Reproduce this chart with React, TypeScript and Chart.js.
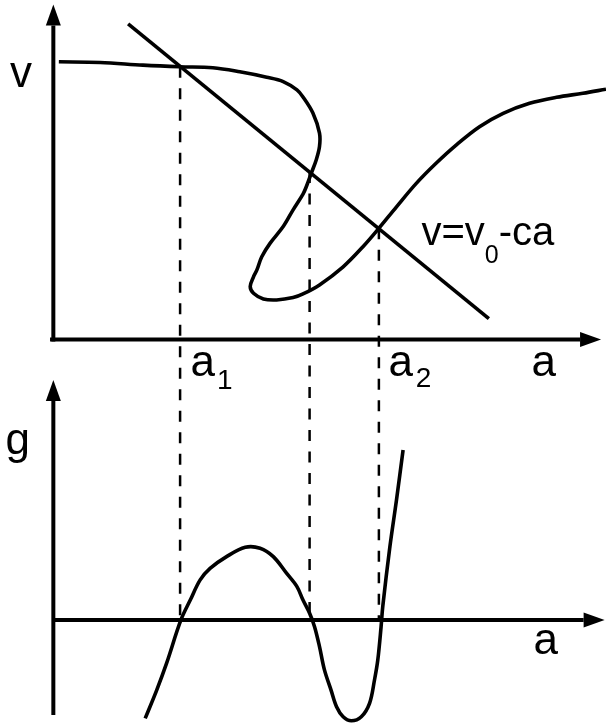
import React, { useEffect, useRef } from "react";
import { Chart, registerables } from "chart.js";

Chart.register(...registerables);

// ---- data (a = abscissa, v = upper ordinate, g = lower ordinate) ----
const curveA = [1.0, 8.5, 16.3, 23.0, 29.0, 33.9, 38.8, 41.8, 44.3, 45.4, 47.2, 48.4, 48.4, 47.8, 46.9, 46.0, 45.4, 43.6, 41.8, 39.4, 37.9, 37.0, 36.4, 35.8, 36.4, 38.2, 40.6, 43.6, 45.4, 48.4, 52.7, 56.3, 59.2, 62.4, 66.0, 69.6, 73.3, 77.5, 81.8, 86.6, 91.5, 96.3, 100.5];
const curveV = [82.9, 82.7, 81.9, 81.4, 81.1, 79.9, 78.3, 77.0, 74.5, 72.4, 67.6, 61.6, 57.6, 53.6, 49.6, 45.6, 43.4, 38.7, 33.7, 28.7, 24.7, 20.7, 18.7, 15.8, 13.8, 12.1, 11.8, 12.5, 13.6, 16.3, 21.7, 27.7, 33.2, 39.6, 46.6, 52.6, 58.1, 63.5, 67.5, 70.5, 72.3, 73.5, 74.7];

const lineA = [13.6, 79.2];
const lineV = [94.2, 6.2];

const gA = [16.7, 18.8, 20.6, 23.2, 24.9, 26.7, 28.5, 31.5, 34.9, 37.6, 40.0, 42.4, 44.3, 45.4, 46.6, 47.5, 48.4, 49.3, 50.5, 51.5, 52.7, 54.2, 56.0, 57.5, 58.4, 59.0, 59.6, 59.9, 61.2, 62.4, 63.6];
const gG = [-41.0, -29.2, -18.0, 0.0, 8.3, 16.7, 21.5, 26.4, 30.3, 29.9, 26.4, 19.5, 13.9, 8.3, 2.8, -2.8, -11.1, -20.8, -29.2, -36.1, -40.3, -42.0, -40.3, -34.7, -25.0, -16.7, -2.8, 5.5, 30.5, 50.0, 70.8];

// crossings of the curve with the straight line
const crossA = [23.05, 46.6, 59.2];
const crossV = [81.4, 50.0, 33.2];

// scale ranges
const A_MIN = -9.7, A_MAX = 100.5;
const V_MIN = -114.48, V_MAX = 101.34;
const G_MIN = -42.92, G_MAX = 258.33;

// axes extents
const TOP_X_AXIS = [-0.6, 99.6];
const TOP_Y_AXIS = [0, 100];
const BOT_X_AXIS = [0, 100.25];
const BOT_Y_AXIS = [-39.6, 100];

const FONT = '"Liberation Sans", Arial, Helvetica, sans-serif';

// v value level that corresponds to g = 0 (both ordinates span the full canvas)
const vAtGZero = V_MIN + ((0 - G_MIN) / (G_MAX - G_MIN)) * (V_MAX - V_MIN);

function arrow(ctx: CanvasRenderingContext2D, x1: number, y1: number, x2: number, y2: number) {
  const len = 21, hw = 7.5;
  const dx = x2 - x1, dy = y2 - y1;
  const d = Math.hypot(dx, dy);
  const ux = dx / d, uy = dy / d;
  const bx = x2 - ux * len, by = y2 - uy * len;
  ctx.beginPath();
  ctx.moveTo(x1, y1);
  ctx.lineTo(bx, by);
  ctx.stroke();
  ctx.beginPath();
  ctx.moveTo(x2, y2);
  ctx.lineTo(bx - uy * hw, by + ux * hw);
  ctx.lineTo(bx + uy * hw, by - ux * hw);
  ctx.closePath();
  ctx.fill();
}

function subText(ctx: CanvasRenderingContext2D, x: number, y: number, main: string, sub: string, rest: string, size: number, subSize: number, drop: number, gap: number) {
  ctx.font = `${size}px ${FONT}`;
  ctx.fillText(main, x, y);
  let cx = x + ctx.measureText(main).width + gap;
  if (sub) {
    ctx.font = `${subSize}px ${FONT}`;
    ctx.fillText(sub, cx, y + drop);
    cx += ctx.measureText(sub).width;
  }
  if (rest) {
    ctx.font = `${size}px ${FONT}`;
    ctx.fillText(rest, cx, y);
  }
}

const decorPlugin = {
  id: "decor",
  afterDatasetsDraw(chart: any) {
    const ctx: CanvasRenderingContext2D = chart.ctx;
    const sx = chart.scales.x, sv = chart.scales.yV, sg = chart.scales.yG;
    ctx.save();
    ctx.fillStyle = "#000";
    ctx.strokeStyle = "#000";
    ctx.lineWidth = 4;
    ctx.lineCap = "butt";
    const x0 = sx.getPixelForValue(0);
    // top panel axes
    const vy0 = sv.getPixelForValue(0);
    arrow(ctx, x0, sv.getPixelForValue(TOP_Y_AXIS[0]) + 2, x0, sv.getPixelForValue(TOP_Y_AXIS[1]));
    arrow(ctx, sx.getPixelForValue(TOP_X_AXIS[0]), vy0, sx.getPixelForValue(TOP_X_AXIS[1]), vy0);
    // bottom panel axes
    const gy0 = sg.getPixelForValue(0);
    arrow(ctx, x0, sg.getPixelForValue(BOT_Y_AXIS[0]), x0, sg.getPixelForValue(BOT_Y_AXIS[1]));
    arrow(ctx, sx.getPixelForValue(BOT_X_AXIS[0]), gy0, sx.getPixelForValue(BOT_X_AXIS[1]), gy0);

    ctx.textBaseline = "alphabetic";
    ctx.textAlign = "left";
    // labels
    subText(ctx, 10, 87, "v", "", "", 44, 28, 0, 0);
    subText(ctx, sx.getPixelForValue(crossA[0]) + 10.5, vy0 + 37, "a", "1", "", 44, 28, 13, 2);
    subText(ctx, sx.getPixelForValue(crossA[2]) + 9.5, vy0 + 37, "a", "2", "", 44, 28, 11, 3);
    subText(ctx, 531.5, vy0 + 37, "a", "", "", 44, 28, 0, 0);
    subText(ctx, 5.6, 454, "g", "", "", 44, 28, 0, 0);
    subText(ctx, 533.5, gy0 + 34, "a", "", "", 44, 28, 0, 0);
    subText(ctx, 421.5, 245, "v=v", "0", "-ca", 40, 25, 18, 0);
    ctx.restore();
  },
};

export default function App() {
  const ref = useRef<HTMLCanvasElement | null>(null);
  useEffect(() => {
    if (!ref.current) return;
    const black = "#000";
    const dashed = crossA.map((a, i) => ({
      data: [{ x: a, y: crossV[i] }, { x: a, y: vAtGZero }],
      yAxisID: "yV",
      showLine: true,
      borderColor: black,
      borderWidth: 2.5,
      borderDash: [11, 10.5],
      pointRadius: 0,
      tension: 0,
    }));
    const chart = new Chart(ref.current, {
      type: "scatter",
      data: {
        datasets: [
          ...dashed,
          {
            data: curveA.map((a, i) => ({ x: a, y: curveV[i] })),
            yAxisID: "yV",
            showLine: true,
            borderColor: black,
            borderWidth: 3.6,
            pointRadius: 0,
            tension: 0.35,
          },
          {
            data: lineA.map((a, i) => ({ x: a, y: lineV[i] })),
            yAxisID: "yV",
            showLine: true,
            borderColor: black,
            borderWidth: 3.6,
            pointRadius: 0,
            tension: 0,
          },
          {
            data: gA.map((a, i) => ({ x: a, y: gG[i] })),
            yAxisID: "yG",
            showLine: true,
            borderColor: black,
            borderWidth: 3.6,
            pointRadius: 0,
            tension: 0.35,
          },
        ] as any,
      },
      options: {
        animation: false,
        responsive: false,
        devicePixelRatio: 1,
        layout: { padding: 0 },
        plugins: { legend: { display: false }, tooltip: { enabled: false } },
        events: [],
        scales: {
          x: { type: "linear", display: false, min: A_MIN, max: A_MAX },
          yV: { type: "linear", axis: "y", display: false, min: V_MIN, max: V_MAX },
          yG: { type: "linear", axis: "y", display: false, min: G_MIN, max: G_MAX },
        } as any,
      },
      plugins: [decorPlugin],
    });
    return () => chart.destroy();
  }, []);
  return (
    <div style={{ position: "absolute", left: 0, top: 0, width: 606, height: 723, background: "#fff" }}>
      <canvas ref={ref} width={606} height={723} style={{ display: "block" }} />
    </div>
  );
}
